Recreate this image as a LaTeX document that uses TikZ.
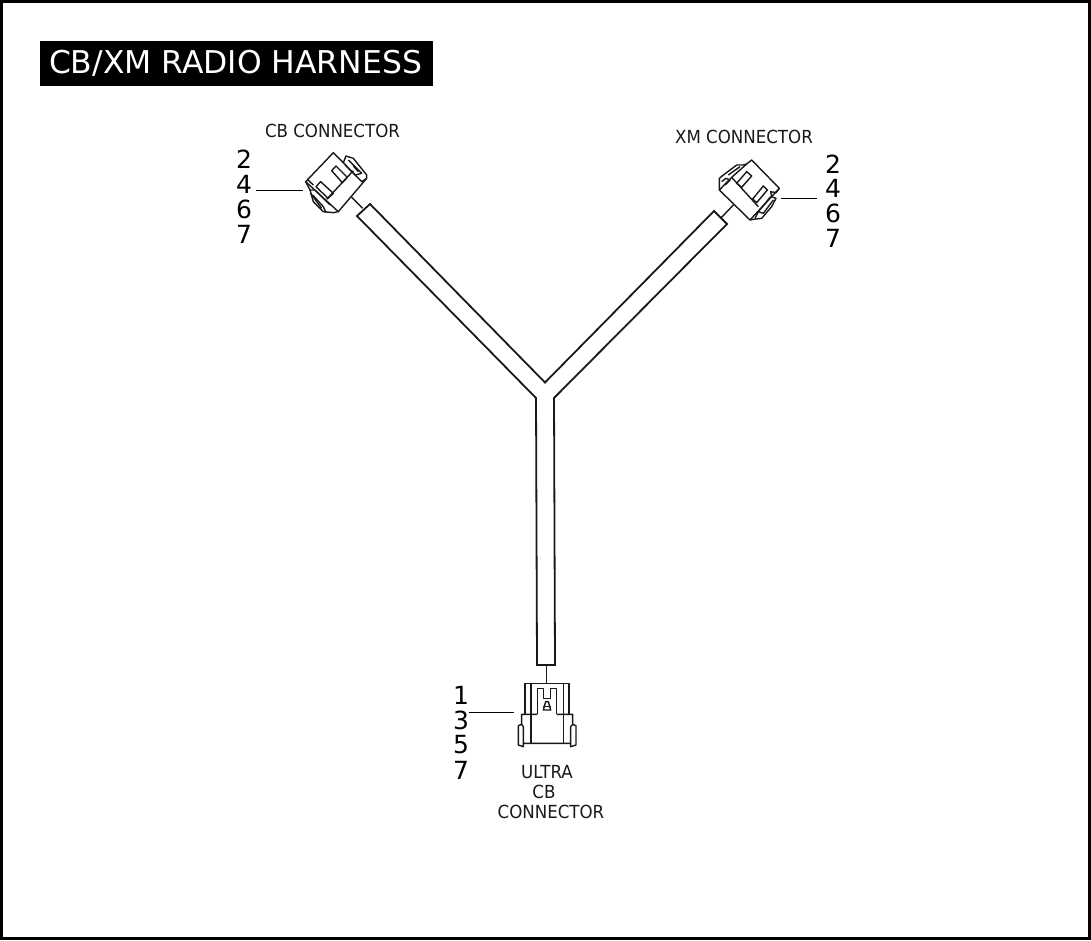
\documentclass[tikz,border=0pt]{standalone}
\usepackage{fontspec}
\setmainfont{DejaVu Sans}
\tikzset{
  wirepen/.style={draw=black!90,line width=1.8pt,line join=miter},
  conn/.style={draw=black!90,line width=1.4pt,line join=round},
  thin lead/.style={draw=black,line width=1pt},
  pinlist/.style={font=\fontsize{25}{25}\selectfont,inner sep=0pt,anchor=center,text=black},
  caption/.style={font=\fontsize{18}{20}\selectfont,inner sep=0pt,text=black!90,xscale=.925,align=center},
}
\begin{document}
\begin{tikzpicture}[x=1pt,y=-1pt]
\useasboundingbox (0,0) rectangle (1091,940);
\fill[white] (0,0) rectangle (1091,940);
\draw[black,line width=3.4pt] (1.7,1.7) rectangle (1089.3,938.3);
\node[fill=black,minimum width=393pt,minimum height=45pt,inner sep=0pt] (title) at (236.5,63.5) {};
\node[text=white,font=\fontsize{31.4}{31.4}\selectfont,inner sep=0pt] (titletext) at (235.5,63) {CB/XM RADIO HARNESS};
% harness
\coordinate (a1) at (357,216); \coordinate (a2) at (370,204);
\coordinate (b1) at (727,224); \coordinate (b2) at (714,211);
\coordinate (c1) at (537,665); \coordinate (c2) at (555,665);
\coordinate (j1) at (536,398); \coordinate (j2) at (554,398); \coordinate (j3) at (545,382.5);
\draw[wirepen] (a1)--(a2)--(j3)--(b2)--(b1)--(j2)--(c2)--(c1)--(j1)--cycle;
% CB connector
\begin{scope}[shift={(290,140)},x=.3333pt,y=-.3333pt]
\draw[conn] (130,38)--(47,125)--(145,215)--(230,115)--(215,125)--(160,68)--cycle;
\draw[conn] (160,68)--(168,48)--(190,55)--(230,105)--(230,115);
\draw[conn] (175,60)--(215,100)--(195,105)--(165,75);
\draw[conn] (190,78)--(205,95);
\draw[conn] (110,178)--(190,92);
\draw[conn] (125,92)--(138,78)--(172,112)--(157,128)--cycle;
\draw[conn] (78,140)--(92,125)--(130,160)--(114,175)--cycle;
\draw[conn] (47,125)--(60,150)--(70,185)--(100,215)--(130,218)--(145,215);
\draw[conn] (60,150)--(75,150)--(120,195);
\draw[conn] (68,165)--(100,200)--(108,218);
\draw[conn] (62,160)--(95,205);
\draw[conn] (52,118)--(70,135);
\coordinate (cbw1) at (185,172); \coordinate (cbw2) at (218,205);
\draw[conn] (cbw1)--(cbw2);
\end{scope}
% XM connector
\begin{scope}[shift={(700,150)},x=.3333pt,y=-.3333pt]
\draw[conn] (155,30)--(238,115)--(150,210)--(58,120)--(95,82)--(140,42)--cycle;
\draw[conn] (58,120)--(58,85)--(70,75)--(110,45)--(130,45)--(140,42);
\draw[conn] (65,95)--(78,85)--(90,90)--(75,105);
\draw[conn] (85,75)--(120,50);
\draw[conn] (95,82)--(175,170);
\draw[conn] (110,100)--(140,65)--(155,78)--(125,112)--cycle;
\draw[conn] (158,147)--(190,108)--(202,120)--(170,158)--cycle;
\draw[conn] (238,115)--(228,128)--(212,125)--(215,140)--(228,145)--(215,170)--(185,205)--(160,208)--(150,210);
\draw[conn] (212,140)--(175,185)--(165,205);
\draw[conn] (220,150)--(190,190)--(175,185);
\coordinate (xmw1) at (100,165); \coordinate (xmw2) at (62,205);
\draw[conn] (xmw1)--(xmw2);
\end{scope}
% Ultra connector
\begin{scope}[shift={(500,655)},x=.3333pt,y=-.3333pt]
\draw[conn] (75,178)--(75,85)--(207,85)--(207,178);
\draw[conn] (93,85)--(93,265); \draw[conn] (190,85)--(190,265);
\draw[conn] (112,178)--(65,178)--(65,208)--(55,212)--(55,270)--(70,275)--(70,265)--(212,265)--(212,275)--(228,270)--(228,212)--(218,208)--(218,178)--(170,178);
\draw[conn] (65,208)--(70,215)--(70,265); \draw[conn] (218,208)--(212,215)--(212,265);
\draw[conn] (112,178)--(112,100)--(130,100)--(130,130)--(152,130)--(152,100)--(170,100)--(170,178);
\draw[conn] (130,165)--(152,165)--(145,140)--(137,140)--cycle;
\draw[conn] (130,155)--(152,155);
\coordinate (ulw1) at (140,85); \coordinate (ulw2) at (140,30);
\draw[conn] (ulw1)--(ulw2);
\end{scope}
% leaders
\coordinate (l1a) at (256,190); \coordinate (l1b) at (303,190);
\coordinate (l2a) at (781,198); \coordinate (l2b) at (817,198);
\coordinate (l3a) at (469,712); \coordinate (l3b) at (514,712);
\draw[thin lead] (l1a)--(l1b); \draw[thin lead] (l2a)--(l2b); \draw[thin lead] (l3a)--(l3b);
% pin numbers
\foreach \n/\t/\y in {p1/2/159,p2/4/184,p3/6/209,p4/7/234} \node[pinlist] (cb\n) at (244,\y) {\t};
\foreach \n/\t/\y in {p1/2/164,p2/4/188,p3/6/213,p4/7/238} \node[pinlist] (xm\n) at (833,\y) {\t};
\foreach \n/\t/\y in {p1/1/695,p2/3/720,p3/5/745,p4/7/770} \node[pinlist] (ul\n) at (461,\y) {\t};
% captions
\node[caption] (cbcap) at (332.5,131) {CB CONNECTOR};
\node[caption] (xmcap) at (744,137) {XM CONNECTOR};
\node[caption] (ulcap1) at (547,772) {ULTRA};
\node[caption] (ulcap2) at (544,792) {CB};
\node[caption] (ulcap3) at (551,812) {CONNECTOR};
\end{tikzpicture}
\end{document}
